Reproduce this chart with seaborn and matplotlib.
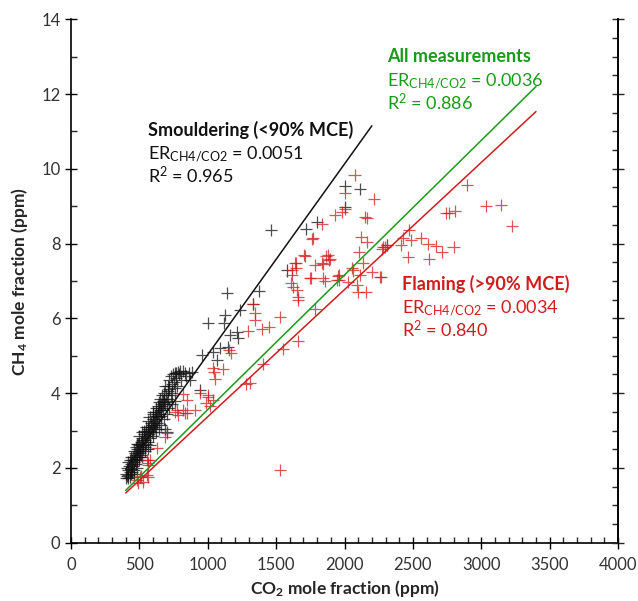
import numpy as np
import pandas as pd
import matplotlib
matplotlib.use('Agg')
import matplotlib.pyplot as plt
from matplotlib.ticker import MultipleLocator, NullFormatter
import seaborn as sns

# Smouldering (<90% MCE) points, CO2 vs CH4 (ppm)
smoulder_co2 = [400, 405, 410, 415, 420, 425, 428, 432, 436, 440, 445, 448, 452, 455, 460, 463,
                468, 470, 475, 478, 482, 486, 490, 494, 498, 502, 505, 510, 514, 518, 522, 526,
                530, 535, 538, 542, 546, 550, 555, 560, 563, 568, 572, 576, 580, 585, 590, 594,
                598, 603, 608, 612, 616, 620, 625, 630, 634, 640, 645, 650, 655, 660, 665, 670,
                676, 682, 688, 694, 700, 706, 712, 720, 728, 735, 742, 750, 758, 765, 775, 790,
                805, 820, 840, 860, 420, 440, 460, 480, 500, 520, 540, 560, 580, 600, 620, 640,
                660, 680, 700, 720, 740, 760, 480, 520, 560, 600, 640, 680, 720, 760, 700, 690,
                410, 418, 430, 438, 447, 458, 466, 472, 484, 492, 500, 508, 516, 524, 532, 544,
                552, 566, 574, 588, 596, 606, 618, 628, 636, 648, 658, 668, 678, 690, 710, 730,
                748, 770, 800,
                785, 834, 883, 870, 944, 956, 1004, 1041, 1066, 1090, 1127, 1122, 1163, 1212,
                1224, 1236, 1334, 1148, 1139, 1377, 1465, 1582, 1719, 1797, 2000, 2114, 2000]
smoulder_ch4 = [1.72, 1.85, 1.78, 1.95, 1.80, 2.05, 1.90, 1.75, 2.10, 1.98, 2.20, 1.88, 2.05, 2.30, 2.15, 1.95,
                2.40, 2.25, 2.10, 2.35, 2.50, 2.20, 2.45, 2.30, 2.60, 2.40, 2.55, 2.70, 2.35, 2.60, 2.80, 2.50,
                2.70, 2.90, 2.55, 2.75, 2.95, 2.65, 2.85, 3.00, 2.70, 2.90, 3.10, 2.80, 3.00, 3.20, 2.95, 3.15,
                3.30, 3.05, 3.25, 3.40, 3.10, 3.30, 3.50, 3.20, 3.45, 3.60, 3.35, 3.55, 3.70, 3.40, 3.65, 3.80,
                3.55, 3.85, 3.70, 3.95, 3.75, 4.05, 3.85, 4.10, 3.95, 4.25, 4.00, 4.30, 4.15, 4.40, 4.20, 4.50,
                4.35, 4.60, 4.45, 4.55, 2.15, 2.30, 1.85, 2.00, 2.20, 2.30, 2.45, 2.50, 2.60, 2.85, 2.95, 3.05,
                3.15, 3.30, 3.45, 3.60, 3.70, 3.80, 2.65, 2.95, 3.25, 3.50, 3.75, 4.00, 4.35, 4.55, 2.95, 3.05,
                2.00, 1.72, 2.20, 1.85, 2.05, 2.45, 2.20, 2.55, 2.30, 2.65, 2.85, 2.45, 2.75, 2.60, 3.00, 2.85,
                3.10, 3.05, 3.35, 3.10, 3.45, 3.15, 3.60, 3.40, 3.65, 3.85, 3.55, 3.95, 3.75, 4.20, 4.20, 4.45,
                4.50, 4.55, 4.60,
                4.57, 4.55, 4.57, 4.35, 4.08, 5.02, 5.87, 5.11, 4.89, 5.20, 6.09, 5.87, 5.56, 5.64,
                5.47, 6.22, 6.38, 5.24, 6.69, 6.74, 8.36, 7.28, 8.38, 8.59, 9.54, 9.46, 8.99]

# Flaming (>90% MCE) points
flaming_co2 = [2899, 3036, 3143, 3228, 2741, 2765, 2811, 2475, 2431, 2487, 2558, 2614, 2668, 2716,
               2797, 2463, 2621, 2412, 2285, 2309, 2265, 2073, 2004, 2004, 2217, 1931, 2151, 2163,
               1834, 1761, 2121, 2163, 1712, 1865, 1895, 1785, 1846, 1639, 1646, 2109, 1756, 1841,
               1858, 1955, 1948, 2053, 2065, 2134, 2200, 2260, 2114, 1607, 1626, 1651, 1663, 2090,
               2102, 2158, 2297, 2309, 2273, 1785, 1529, 1346, 1346, 1395, 1451, 1658, 1553, 1407,
               1309, 1980, 1773, 1704, 1644, 1619, 1614, 1834, 1878, 1887, 1748, 1963, 1960, 2029,
               1529, 1658, 1334, 1297, 1280, 1158, 1168, 1037, 1048, 1110, 1053, 944, 1004, 1004,
               1041, 1017, 988, 817, 851, 834, 907, 773, 785, 688, 700, 553, 565, 480, 512, 558,
               822, 846, 761, 627, 578, 566, 505, 529, 566, 492]
flaming_ch4 = [9.56, 9.00, 9.02, 8.47, 8.83, 8.81, 8.86, 8.36, 8.14, 8.10, 8.14, 8.00, 7.94, 7.78,
               7.90, 7.65, 7.58, 7.96, 7.90, 7.96, 7.11, 9.83, 9.34, 8.92, 9.18, 8.76, 8.72, 8.68,
               8.52, 8.11, 8.18, 8.05, 7.67, 7.67, 7.58, 7.43, 7.45, 7.47, 7.34, 7.78, 7.09, 7.09,
               7.00, 7.13, 7.03, 7.34, 7.28, 7.47, 7.25, 7.11, 7.16, 6.94, 6.85, 6.76, 6.58, 6.89,
               6.71, 6.71, 7.92, 7.96, 7.85, 6.24, 6.03, 6.14, 5.96, 5.71, 5.78, 5.40, 5.17, 4.78,
               4.27, 8.85, 8.14, 7.69, 7.47, 7.29, 7.16, 7.47, 7.69, 7.56, 7.07, 7.16, 7.03, 6.98,
               1.94, 6.49, 6.38, 5.66, 4.24, 5.15, 5.07, 4.66, 4.57, 4.64, 4.37, 4.00, 3.95, 3.90,
               3.82, 3.66, 3.73, 3.98, 3.82, 3.46, 3.55, 3.55, 3.42, 2.84, 2.93, 2.21, 2.12, 1.68, 1.78, 1.81,
               3.55, 3.46, 3.50, 2.52, 2.21, 2.08, 1.77, 1.63, 1.77, 1.59]

# Regression lines: slope (ER), intercept, x-range
fit_names = ['Smouldering', 'All', 'Flaming']
fit_slope = [0.0051, 0.0036, 0.0034]
fit_icept = [-0.07, -0.04, -0.03]
fit_xmin = [400, 400, 400]
fit_xmax = [2200, 3400, 3400]

BLACK = '#111111'
GREEN = '#1a9a1a'
RED = '#d01c1c'

sns.set_style('ticks')
plt.rcParams['font.family'] = ['Lato', 'DejaVu Sans']
plt.rcParams['mathtext.fontset'] = 'custom'
plt.rcParams['mathtext.rm'] = 'Lato'
plt.rcParams['mathtext.it'] = 'Lato:italic'
plt.rcParams['mathtext.bf'] = 'Lato:bold'

df_s = pd.DataFrame({'co2': smoulder_co2, 'ch4': smoulder_ch4, 'phase': 'Smouldering'})
df_f = pd.DataFrame({'co2': flaming_co2, 'ch4': flaming_ch4, 'phase': 'Flaming'})
pts = pd.concat([df_s, df_f], ignore_index=True)

fig = plt.figure(figsize=(6.38, 6.01), dpi=100)
ax = fig.add_axes([0.1113, 0.097, 0.8574, 0.871])

sns.scatterplot(data=pts, x='co2', y='ch4', hue='phase', style='phase',
                markers={'Smouldering': '+', 'Flaming': '+'},
                palette={'Smouldering': BLACK, 'Flaming': RED},
                s=75, linewidth=0.9, alpha=0.75, legend=False, ax=ax)

line_cols = [BLACK, GREEN, RED]
for name, m, b, x0, x1, c in zip(fit_names, fit_slope, fit_icept, fit_xmin, fit_xmax, line_cols):
    xs = np.array([x0, x1])
    sns.lineplot(x=xs, y=m * xs + b, color=c, linewidth=1.1, ax=ax)

ax.set_xlim(0, 4000)
ax.set_ylim(0, 14)
ax.xaxis.set_major_locator(MultipleLocator(500))
ax.xaxis.set_minor_locator(MultipleLocator(100))
ax.yaxis.set_major_locator(MultipleLocator(2))
ax.yaxis.set_minor_locator(MultipleLocator(1))
ax.tick_params(which='major', direction='inout', length=8, width=1, labelsize=12, colors='black')
ax.tick_params(which='minor', direction='in', length=4, width=1)
ax.tick_params(axis='x', which='major', pad=6)
for sp in ['left', 'bottom', 'right']:
    ax.spines[sp].set_color('black')
    ax.spines[sp].set_linewidth(1.2)
ax.spines['top'].set_visible(False)
for lab in ax.get_xticklabels() + ax.get_yticklabels():
    lab.set_color('#333333')

# right-hand axis: ticks only, finer minor spacing
ax2 = ax.twinx()
ax2.set_ylim(0, 14)
ax2.yaxis.set_major_locator(MultipleLocator(2))
ax2.yaxis.set_minor_locator(MultipleLocator(0.5))
ax2.yaxis.set_major_formatter(NullFormatter())
ax2.tick_params(which='major', direction='inout', length=8, width=1)
ax2.tick_params(which='minor', direction='in', length=4, width=1)
for sp in ['left', 'bottom', 'top']:
    ax2.spines[sp].set_visible(False)
ax2.spines['right'].set_linewidth(1.2)
ax2.spines['right'].set_color('black')

ax.set_xlabel(r'CO$_\mathbf{2}$ mole fraction (ppm)', fontsize=12.5, fontweight='bold', labelpad=4)
ax.set_ylabel(r'CH$_\mathbf{4}$ mole fraction (ppm)', fontsize=12.5, fontweight='bold', labelpad=8)

def annotate(x, y, title, er, r2, color):
    ax.text(x, y, title, color=color, fontsize=13, fontweight='bold', ha='left', va='center')
    ax.text(x, y - 0.64, r'ER$_{\mathrm{CH4/CO2}}$ = ' + er, color=color, fontsize=13, ha='left', va='center')
    ax.text(x, y - 1.22, r'R$^{2}$ = ' + r2, color=color, fontsize=13, ha='left', va='center')

annotate(563, 11.04, 'Smouldering (<90% MCE)', '0.0051', '0.965', BLACK)
annotate(2312, 12.99, 'All measurements', '0.0036', '0.886', GREEN)
annotate(2421, 6.91, 'Flaming (>90% MCE)', '0.0034', '0.840', RED)

fig.savefig('out.png', dpi=100)
